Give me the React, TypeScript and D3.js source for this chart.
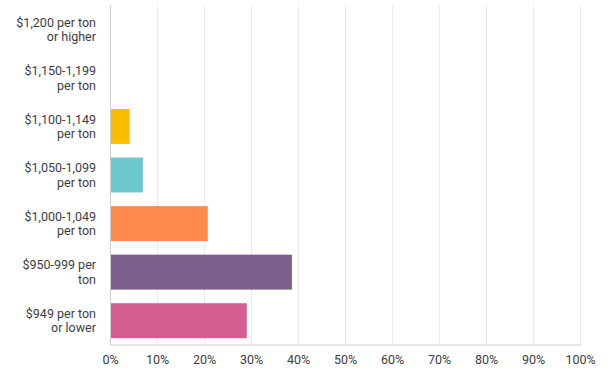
import React from "react";
import * as d3 from "d3";

const categories = [
  "$1,200 per ton|or higher",
  "$1,150-1,199|per ton",
  "$1,100-1,149|per ton",
  "$1,050-1,099|per ton",
  "$1,000-1,049|per ton",
  "$950-999 per|ton",
  "$949 per ton|or lower",
];
const values = [0, 0, 4.1, 6.9, 20.7, 38.6, 29.0];
const colors = ["#4DA9E0", "#9BC85A", "#F9BE00", "#6CC8CC", "#FF8B4F", "#7B5E8D", "#D45E8F"];
const ticks = [0, 10, 20, 30, 40, 50, 60, 70, 80, 90, 100];

const W = 610;
const H = 384;
const left = 110.5;
const right = 580.5;
const top = 5;
const bottom = 345;

export default function App() {
  const x = d3.scaleLinear().domain([0, 100]).range([left, right]);
  const y = d3
    .scaleBand<string>()
    .domain(categories)
    .range([top, bottom])
    .paddingInner(0.28)
    .paddingOuter(0.14);
  const font = "Roboto, 'Open Sans', sans-serif";
  return (
    <svg
      width={W}
      height={H}
      style={{ position: "absolute", left: 0, top: 0, background: "#fff" }}
      fontFamily={font}
    >
      {ticks.slice(1).map((t) => (
        <line key={t} x1={x(t)} x2={x(t)} y1={top} y2={bottom} stroke="#ebebeb" strokeWidth={1} />
      ))}
      {categories.map((c, i) => (
        <rect
          key={c}
          x={x(0) + 0.5}
          y={y(c)!}
          width={Math.max(0, x(values[i]) - x(0) - 0.5)}
          height={y.bandwidth()}
          fill={colors[i]}
        />
      ))}
      <line x1={left} x2={left} y1={top} y2={bottom} stroke="#cccccc" strokeWidth={1} />
      <line x1={left} x2={right} y1={bottom} y2={bottom} stroke="#cccccc" strokeWidth={1} />
      {categories.map((c) => {
        const lines = c.split("|");
        const cy = y(c)! + y.bandwidth() / 2;
        return (
          <text key={c} textAnchor="end" fontSize={12.5} fill="#3d3d45">
            {lines.map((l, j) => (
              <tspan key={j} x={96} y={cy + (j - (lines.length - 1) / 2) * 14.5 + 4.5}>
                {l}
              </tspan>
            ))}
          </text>
        );
      })}
      {ticks.map((t) => (
        <text key={t} x={x(t)} y={364} textAnchor="middle" fontSize={12.5} fill="#3d3d45">
          {t}%
        </text>
      ))}
    </svg>
  );
}
